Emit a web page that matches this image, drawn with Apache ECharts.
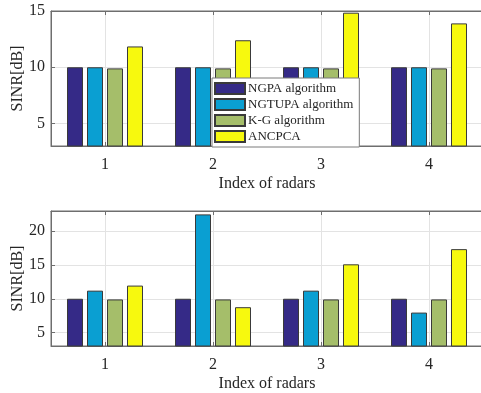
<!DOCTYPE html>
<html>
<head>
<meta charset="utf-8">
<script src="https://cdn.jsdelivr.net/npm/echarts@6/dist/echarts.min.js"></script>
<style>html,body{margin:0;padding:0;background:#fff}#c{width:481px;height:393px}</style>
</head>
<body>
<div id="c"></div>
<script>
const categories = ['1', '2', '3', '4'];
const seriesNames = ['NGPA algorithm', 'NGTUPA algorithm', 'K-G algorithm', 'ANCPCA'];
// Top panel
const topNGPA = [10, 10, 10, 10];
const topNGTUPA = [10, 10, 10, 10];
const topKG = [9.9, 9.9, 9.9, 9.9];
const topANCPCA = [11.85, 12.4, 14.85, 13.9];
// Bottom panel
const botNGPA = [10, 10, 10, 10];
const botNGTUPA = [11.2, 22.5, 11.2, 7.95];
const botKG = [9.9, 9.9, 9.9, 9.9];
const botANCPCA = [11.95, 8.75, 15.1, 17.35];
const topTicks = [5, 10, 15];
const botTicks = [5, 10, 15, 20];
const yTitle = 'SINR[dB]';
const xTitle = 'Index of radars';

const colors = ['#352a87', '#0a9fd2', '#a5be6a', '#f7f90e'];
const FONT = '"Liberation Serif", "Times New Roman", serif';
const txt = '#262626';
const axisGray = '#6e6e6e';
const gridGray = '#e3e3e3';

function xAxes(gi) {
  return [{
    type: 'category', data: categories, gridIndex: gi, position: 'bottom',
    axisLine: { show: true, lineStyle: { color: axisGray } },
    axisTick: { show: true, alignWithLabel: true, inside: true, length: 4, lineStyle: { color: axisGray } },
    axisLabel: { fontFamily: FONT, fontSize: 16, color: txt, margin: 11 },
    splitLine: { show: true, alignWithLabel: true, lineStyle: { color: gridGray } },
    name: xTitle, nameLocation: 'middle', nameGap: 30,
    nameTextStyle: { fontFamily: FONT, fontSize: 16, color: txt }
  }, {
    type: 'category', data: categories, gridIndex: gi, position: 'top',
    axisLine: { show: true, lineStyle: { color: axisGray } },
    axisTick: { show: true, alignWithLabel: true, inside: true, length: 4, lineStyle: { color: axisGray } },
    axisLabel: { show: false }, splitLine: { show: false }
  }];
}
function yAxis(gi, min, max, ticks) {
  return {
    type: 'value', gridIndex: gi, min: min, max: max,
    axisLine: { show: true, lineStyle: { color: axisGray } },
    axisTick: { show: true, inside: true, length: 4, customValues: ticks, lineStyle: { color: axisGray } },
    axisLabel: { fontFamily: FONT, fontSize: 16, color: txt, margin: 6, customValues: ticks },
    splitLine: { show: true, customValues: ticks, lineStyle: { color: gridGray } }
  };
}
function bars(name, data, idx, gi) {
  return {
    type: 'bar', name: name, data: data, xAxisIndex: gi * 2, yAxisIndex: gi,
    barWidth: 16, barGap: '25%',
    itemStyle: { color: colors[idx], borderColor: '#3a3a3a', borderWidth: 1 },
    emphasis: { disabled: true }
  };
}
function yTitleText(cy) {
  return {
    type: 'text', x: 17.5, y: cy, rotation: Math.PI / 2, silent: true,
    style: { text: yTitle, font: '16px "Liberation Serif", serif', fill: txt, align: 'center', verticalAlign: 'middle' }
  };
}
const chart = echarts.init(document.getElementById('c'), null, { renderer: 'canvas' });
chart.setOption({
  animation: false,
  grid: [
    { left: 51, top: 11, width: 432, height: 135, show: true, borderColor: axisGray, borderWidth: 1, outerBoundsMode: 'none', containLabel: false },
    { left: 51, top: 211, width: 432, height: 135, show: true, borderColor: axisGray, borderWidth: 1, outerBoundsMode: 'none', containLabel: false }
  ],
  xAxis: xAxes(0).concat(xAxes(1).map(a => Object.assign(a, { gridIndex: 1 }))),
  yAxis: [
    yAxis(0, 3, 15, topTicks),
    yAxis(1, 3, 23, botTicks)
  ],
  graphic: [yTitleText(78.5), yTitleText(278.5)],
  legend: {
    data: seriesNames.map(n => ({ name: n, icon: 'rect' })), orient: 'vertical', left: 212, top: 78,
    itemWidth: 30, itemHeight: 11, itemGap: 3,
    padding: [4, 6, 4, 2],
    backgroundColor: '#ffffff', borderColor: '#7a7a7a', borderWidth: 1, borderRadius: 0,
    textStyle: { fontFamily: FONT, fontSize: 13, color: txt, padding: [0, 0, 0, -2] },
    selectedMode: false
  },
  series: [
    bars(seriesNames[0], topNGPA, 0, 0),
    bars(seriesNames[1], topNGTUPA, 1, 0),
    bars(seriesNames[2], topKG, 2, 0),
    bars(seriesNames[3], topANCPCA, 3, 0),
    bars(seriesNames[0], botNGPA, 0, 1),
    bars(seriesNames[1], botNGTUPA, 1, 1),
    bars(seriesNames[2], botKG, 2, 1),
    bars(seriesNames[3], botANCPCA, 3, 1)
  ]
});
</script>
</body>
</html>
